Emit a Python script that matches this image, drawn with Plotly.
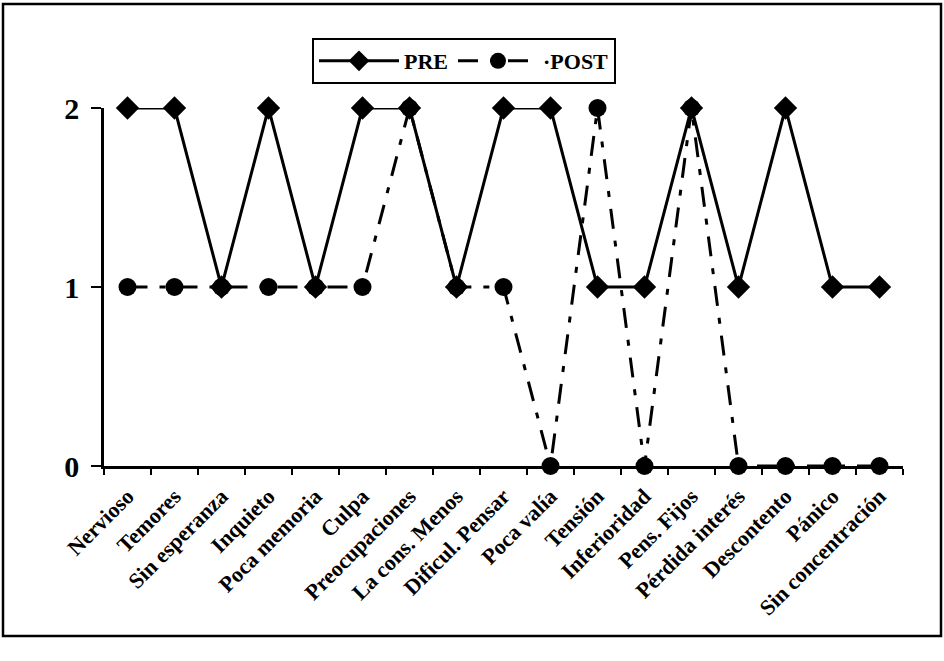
import plotly.graph_objects as go

categories = ["Nervioso", "Temores", "Sin esperanza", "Inquieto", "Poca memoria",
              "Culpa", "Preocupaciones", "La cons. Menos", "Dificul. Pensar",
              "Poca valía", "Tensión", "Inferioridad", "Pens. Fijos",
              "Pérdida interés", "Descontento", "Pánico", "Sin concentración"]
pre = [2, 2, 1, 2, 1, 2, 2, 1, 2, 2, 1, 1, 2, 1, 2, 1, 1]
post = [1, 1, 1, 1, 1, 1, 2, 1, 1, 0, 2, 0, 2, 0, 0, 0, 0]
y_ticks = [0, 1, 2]

FONT = "Liberation Serif"

fig = go.Figure()
fig.add_trace(go.Scatter(
    x=categories, y=pre, name="<b>PRE</b>", mode="lines+markers",
    line=dict(color="black", width=3),
    marker=dict(symbol="diamond", size=18, color="black"),
    cliponaxis=False,
))
fig.add_trace(go.Scatter(
    x=categories, y=post, name="<b>·POST</b>", mode="lines+markers",
    line=dict(color="black", width=3, dash="20px,12px,6px,12px"),
    marker=dict(symbol="circle", size=18, color="black"),
    cliponaxis=False,
))

L, R, T, B = 104, 903, 108, 466
W, H = 944, 661
pw, ph = R - L, B - T

def px(x):
    return (x - L) / pw

def py(y):
    return (B - y) / ph

fig.update_layout(
    width=W, height=H,
    margin=dict(l=L, r=W - R, t=T, b=H - B, pad=0),
    paper_bgcolor="white", plot_bgcolor="white",
    font=dict(family=FONT, color="black"),
    showlegend=True,
    legend=dict(
        orientation="h", x=px(312), y=py(38), xanchor="left", yanchor="top",
        bordercolor="black", borderwidth=2, bgcolor="white",
        font=dict(family=FONT, size=22, color="black"),
        itemwidth=80, tracegroupgap=0,
    ),
    xaxis=dict(
        type="category", range=[-0.5, len(categories) - 0.5],
        showgrid=False, zeroline=False,
        showline=True, linecolor="black", linewidth=2.5,
        ticks="outside", tickson="boundaries", ticklen=6, tickwidth=2, tickcolor="black",
        tickangle=-45, ticklabelstandoff=6,
        tickfont=dict(family=FONT, size=22, color="black", weight="bold"),
    ),
    yaxis=dict(
        range=[0, 2], tickvals=y_ticks, ticktext=[f"<b>{v}</b>" for v in y_ticks],
        showgrid=False, zeroline=False,
        showline=True, linecolor="black", linewidth=2.5,
        ticks="outside", ticklen=10, tickwidth=2, tickcolor="black",
        tickfont=dict(family=FONT, size=30, color="black"),
        ticklabelstandoff=6,
    ),
    shapes=[
        dict(type="rect", xref="paper", yref="paper",
             x0=px(3), x1=px(941), y0=py(636), y1=py(4),
             line=dict(color="black", width=2.5), fillcolor="rgba(0,0,0,0)", layer="below"),
    ],
)

fig.write_html("out.html")
